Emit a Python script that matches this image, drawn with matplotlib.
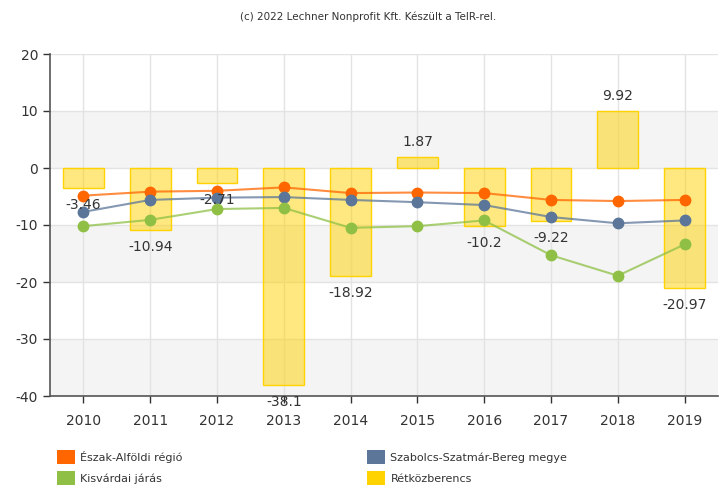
# Recreates the Lechner / TeIR comparison chart (bars + three region lines)
import numpy as np
import matplotlib.pyplot as plt
from matplotlib.patches import Patch

plt.rcParams['axes.unicode_minus'] = False

# Data
years = ['2010', '2011', '2012', '2013', '2014', '2015', '2016', '2017', '2018', '2019']
retkozberencs = [-3.46, -10.94, -2.71, -38.1, -18.92, 1.87, -10.2, -9.22, 9.92, -20.97]
eszak_alfold = [-4.85, -4.15, -4.0, -3.4, -4.4, -4.3, -4.4, -5.6, -5.8, -5.6]
szabolcs = [-7.7, -5.6, -5.2, -5.1, -5.6, -6.0, -6.5, -8.6, -9.7, -9.2]
kisvarda = [-10.2, -9.1, -7.2, -7.0, -10.5, -10.2, -9.2, -15.3, -18.9, -13.4]
yticks = [20, 10, 0, -10, -20, -30, -40]

ORANGE = '#FF6600'
BLUE = '#5B7699'
GREEN = '#8FC045'
GOLD = '#FFD300'
TEXT = '#333333'

fig = plt.figure(figsize=(7.19, 4.93), dpi=100)
ax = fig.add_axes([50 / 719, 97 / 493, 668 / 719, 342 / 493])

x = np.arange(len(years))

# alternating horizontal bands
for lo, hi in [(0, 10), (-20, -10), (-40, -30)]:
    ax.axhspan(lo, hi, color='#F4F4F4', zorder=0, lw=0)
for t in yticks:
    ax.axhline(t, color='#E3E3E3', lw=1, zorder=0.5)
for xi in x:
    ax.axvline(xi, color='#E3E3E3', lw=1, zorder=0.5)

ax.bar(x, retkozberencs, width=0.61, color=GOLD, alpha=0.5, zorder=2)
ax.bar(x, retkozberencs, width=0.61, facecolor='none', edgecolor=GOLD, lw=1, zorder=2.1)

for xi, v in zip(x, retkozberencs):
    off = 15 if v > 0 else -17
    ax.annotate(f'{v:g}', (xi, v), xytext=(0, off), textcoords='offset pixels',
                ha='center', va='center', fontsize=10, color=TEXT, zorder=6,
                annotation_clip=False)

for vals, col in [(eszak_alfold, ORANGE), (szabolcs, BLUE), (kisvarda, GREEN)]:
    ax.plot(x, vals, color=col, lw=1.5, alpha=0.75, zorder=3)
    ax.plot(x, vals, 'o', color=col, ms=7.5, zorder=4)

ax.set_xlim(-0.5, 9.5)
ax.set_ylim(-40, 20)
ax.set_yticks(yticks)
ax.set_xticks(x)
ax.set_xticklabels(years)
ax.tick_params(axis='both', labelsize=10, colors=TEXT, length=5, width=1)
ax.tick_params(axis='x', pad=8)
for s in ['top', 'right']:
    ax.spines[s].set_visible(False)
for s in ['left', 'bottom']:
    ax.spines[s].set_color('#555555')
    ax.spines[s].set_linewidth(1.2)

fig.text(368 / 719, 1 - 17 / 493, '(c) 2022 Lechner Nonprofit Kft. Készült a TeIR-rel.',
         ha='center', va='center', fontsize=7.5, color=TEXT)

# column-wise fill: orange, green | blue, gold
handles = [Patch(facecolor=ORANGE, label='Észak-Alföldi régió'),
           Patch(facecolor=GREEN, label='Kisvárdai járás'),
           Patch(facecolor=BLUE, label='Szabolcs-Szatmár-Bereg megye'),
           Patch(facecolor=GOLD, label='Rétközberencs')]
fig.legend(handles=handles, ncol=2, loc='upper left', bbox_to_anchor=(47 / 719, 1 - 440 / 493),
           frameon=False, fontsize=8, handlelength=1.6, handleheight=1.6,
           handletextpad=0.5, columnspacing=16.6, labelspacing=0.6, labelcolor=TEXT)

fig.savefig('out.png', dpi=100)
